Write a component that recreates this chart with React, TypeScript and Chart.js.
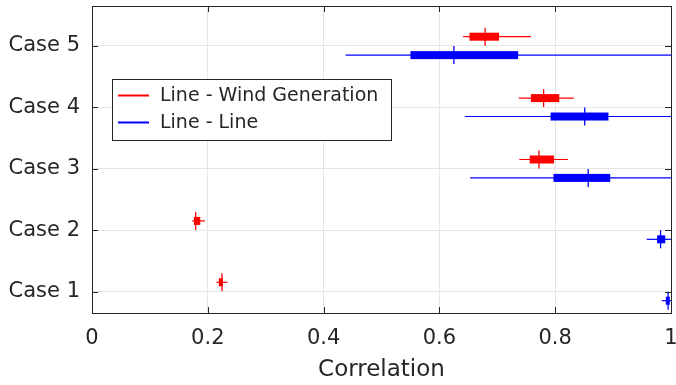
import React, { useEffect, useRef } from 'react';
import { Chart, registerables } from 'chart.js';

Chart.register(...registerables);

// ---- data ----
const caseLabels = ['Case 1', 'Case 2', 'Case 3', 'Case 4', 'Case 5'];
const casePositions = [1, 2, 3, 4, 5];
const xTickValues = [0, 0.2, 0.4, 0.6, 0.8, 1];
const seriesNames = ['Line - Wind Generation', 'Line - Line'];
const seriesColors = ['#ff0000', '#0000ff'];
const seriesOffsets = [0.15, -0.15];

// Line - Wind Generation (red)
const windWhiskerLow = [0.215, 0.173, 0.738, 0.737, 0.641];
const windQ1 = [0.219, 0.176, 0.756, 0.758, 0.652];
const windMedian = [0.2245, 0.179, 0.772, 0.78, 0.679];
const windQ3 = [0.226, 0.187, 0.798, 0.807, 0.703];
const windWhiskerHigh = [0.234, 0.195, 0.822, 0.832, 0.758];

// Line - Line (blue)
const lineWhiskerLow = [0.984, 0.958, 0.653, 0.644, 0.438];
const lineQ1 = [0.991, 0.976, 0.797, 0.792, 0.55];
const lineMedian = [0.995, 0.982, 0.857, 0.851, 0.625];
const lineQ3 = [0.998, 0.99, 0.895, 0.892, 0.736];
const lineWhiskerHigh = [1.0, 1.0, 1.0, 1.0, 1.0];

const series = [
  { low: windWhiskerLow, q1: windQ1, med: windMedian, q3: windQ3, high: windWhiskerHigh },
  { low: lineWhiskerLow, q1: lineQ1, med: lineMedian, q3: lineQ3, high: lineWhiskerHigh },
];

const TEXT = '#262626';
const GRID = '#e5e5e5';
const FONT = "'DejaVu Sans', sans-serif";

const boxPlugin = {
  id: 'compactBoxes',
  beforeDatasetsDraw(chart: any) {
    const { ctx, chartArea: a } = chart;
    const xs = chart.scales.x;
    const ys = chart.scales.y;
    ctx.save();
    ctx.beginPath();
    ctx.rect(a.left, a.top, a.right - a.left, a.bottom - a.top);
    ctx.clip();
    series.forEach((s, si) => {
      const col = seriesColors[si];
      casePositions.forEach((c, i) => {
        const py = ys.getPixelForValue(c + seriesOffsets[si]);
        ctx.strokeStyle = col;
        ctx.lineWidth = 1.2;
        ctx.beginPath();
        ctx.moveTo(xs.getPixelForValue(s.low[i]), py);
        ctx.lineTo(xs.getPixelForValue(s.high[i]), py);
        ctx.stroke();
        const x1 = xs.getPixelForValue(s.q1[i]);
        const x3 = xs.getPixelForValue(s.q3[i]);
        ctx.fillStyle = col;
        ctx.fillRect(x1, py - 4, x3 - x1, 8);
      });
    });
    ctx.restore();
  },
  afterDatasetsDraw(chart: any) {
    const { ctx, chartArea: a } = chart;
    const xs = chart.scales.x;
    const ys = chart.scales.y;
    ctx.save();
    // frame
    ctx.strokeStyle = TEXT;
    ctx.lineWidth = 1;
    ctx.beginPath();
    ctx.moveTo(a.left, a.top + 0.5);
    ctx.lineTo(a.right + 0.5, a.top + 0.5);
    ctx.lineTo(a.right + 0.5, a.bottom);
    ctx.stroke();
    // inward ticks
    const tl = 6;
    ctx.beginPath();
    xTickValues.forEach((v) => {
      const px = Math.round(xs.getPixelForValue(v)) + 0.5;
      ctx.moveTo(px, a.bottom);
      ctx.lineTo(px, a.bottom - tl);
      ctx.moveTo(px, a.top);
      ctx.lineTo(px, a.top + tl);
    });
    casePositions.forEach((v) => {
      const py = Math.round(ys.getPixelForValue(v)) + 0.5;
      ctx.moveTo(a.left, py);
      ctx.lineTo(a.left + tl, py);
      ctx.moveTo(a.right, py);
      ctx.lineTo(a.right - tl, py);
    });
    ctx.stroke();
    // legend
    const lx = a.left + 20;
    const ly = a.top + 73;
    const lw = 279;
    const lh = 61;
    ctx.fillStyle = '#ffffff';
    ctx.fillRect(lx, ly, lw, lh);
    ctx.strokeStyle = TEXT;
    ctx.lineWidth = 1;
    ctx.strokeRect(lx + 0.5, ly + 0.5, lw, lh);
    ctx.font = `19px ${FONT}`;
    ctx.textBaseline = 'middle';
    ctx.textAlign = 'left';
    seriesNames.forEach((name, i) => {
      const yy = ly + 16.5 + i * 27;
      ctx.strokeStyle = seriesColors[i];
      ctx.lineWidth = 2;
      ctx.beginPath();
      ctx.moveTo(lx + 6, yy);
      ctx.lineTo(lx + 37, yy);
      ctx.stroke();
      ctx.fillStyle = TEXT;
      ctx.fillText(name, lx + 48, yy + 0.5);
    });
    ctx.restore();
  },
};

export default function App() {
  const ref = useRef<HTMLCanvasElement | null>(null);
  useEffect(() => {
    document.body.style.margin = '0';
    if (!ref.current) return;
    const chart = new Chart(ref.current, {
      type: 'scatter',
      data: {
        datasets: series.map((s, si) => ({
          label: seriesNames[si],
          data: casePositions.map((c, i) => ({ x: s.med[i], y: c + seriesOffsets[si] })),
          pointStyle: 'line',
          rotation: 90,
          radius: 9,
          hoverRadius: 9,
          borderWidth: 1.3,
          borderColor: seriesColors[si],
          backgroundColor: seriesColors[si],
        })),
      },
      options: {
        animation: false,
        responsive: false,
        devicePixelRatio: 1,
        layout: { autoPadding: false, padding: { top: 6, right: 5, left: 0, bottom: 0 } },
        plugins: { legend: { display: false }, tooltip: { enabled: false } },
        scales: {
          x: {
            type: 'linear',
            min: 0,
            max: 1,
            afterBuildTicks: (sc: any) => {
              sc.ticks = xTickValues.map((v) => ({ value: v }));
            },
            afterFit: (sc: any) => {
              sc.height = 72;
              sc.paddingLeft = 0;
              sc.paddingRight = 0;
            },
            ticks: {
              color: TEXT,
              font: { family: FONT, size: 21 },
              padding: 13,
              maxRotation: 0,
              callback: (v: any) => String(v),
            },
            grid: { color: GRID, drawTicks: false },
            border: { display: true, color: TEXT, width: 1 },
            title: {
              display: true,
              text: 'Correlation',
              color: TEXT,
              font: { family: FONT, size: 23 },
              padding: { top: 0, bottom: 1 },
            },
          },
          y: {
            type: 'linear',
            min: 0.65,
            max: 5.65,
            afterBuildTicks: (sc: any) => {
              sc.ticks = casePositions.map((v) => ({ value: v }));
            },
            afterFit: (sc: any) => {
              sc.width = 92;
              sc.paddingTop = 0;
              sc.paddingBottom = 0;
            },
            ticks: {
              color: TEXT,
              font: { family: FONT, size: 21 },
              padding: 12,
              callback: (v: any) => caseLabels[casePositions.indexOf(v)] ?? '',
            },
            grid: { color: GRID, drawTicks: false },
            border: { display: true, color: TEXT, width: 1 },
          },
        },
      },
      plugins: [boxPlugin],
    });
    return () => chart.destroy();
  }, []);
  return (
    <div style={{ width: 676, height: 385 }}>
      <canvas ref={ref} width={676} height={385} />
    </div>
  );
}
